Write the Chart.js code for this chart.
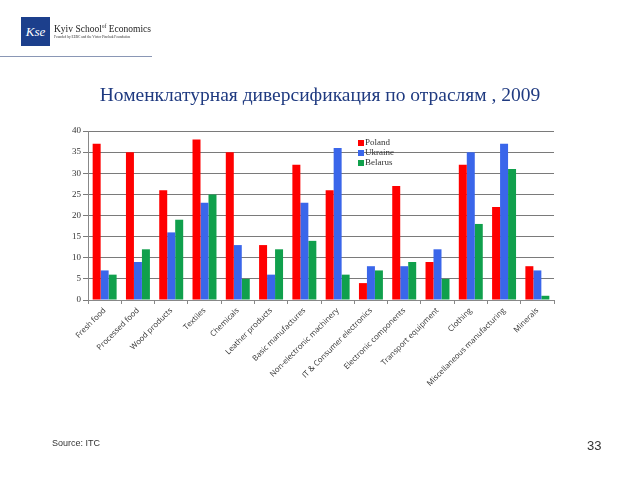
<!DOCTYPE html>
<html><head><meta charset="utf-8">
<script src="https://cdn.jsdelivr.net/npm/chart.js@4/dist/chart.umd.min.js"></script>
<style>
html,body{margin:0;padding:0;background:#fff;width:640px;height:480px;overflow:hidden;}
#wrap{position:absolute;left:0;top:0;width:640px;height:480px;}
.abs{position:absolute;white-space:nowrap;}
#logo{left:21px;top:17px;width:29px;height:29px;background:#1c3f8c;color:#fff;font:italic 13px "Liberation Serif";text-align:center;line-height:29px;}
#kse{left:54px;top:23px;font:9.5px "Liberation Serif";color:#222;}
#kse sup{font-size:5.5px;}
#kse2{left:54px;top:35px;font:3.5px "Liberation Serif";color:#333;}
#hr{left:0;top:56px;width:152px;height:1px;background:#8a97b5;}
#title{left:0;width:640px;top:84px;text-align:center;font:19.5px "Liberation Serif";color:#1f3a80;}
#src{left:52px;top:438px;font:9px "Liberation Sans";color:#333;}
#pg{left:587px;top:438px;font:13px "Liberation Sans";color:#333;}
.lg{font:9px "Liberation Serif";color:#333;}
.sw{position:absolute;width:6px;height:6px;}
</style></head>
<body>
<div id="wrap">
<canvas id="c" width="640" height="480"></canvas>
<div id="logo" class="abs">Kse</div>
<div id="kse" class="abs">Kyiv School<sup>of</sup> Economics</div>
<div id="kse2" class="abs">Founded by EERC and the Victor Pinchuk Foundation</div>
<div id="hr" class="abs"></div>
<div id="title" class="abs">Номенклатурная диверсификация по отраслям , 2009</div>
<div id="src" class="abs">Source: ITC</div>
<div id="pg" class="abs">33</div>
<div id="legend"></div>
</div>
<script>
const categories = ["Fresh food","Processed food","Wood products","Textiles","Chemicals","Leather products","Basic manufactures","Non-electronic machinery","IT & Consumer electronics","Electronic components","Transport equipment","Clothing","Miscellaneous manufacturing","Minerals"];
const poland  = [37,35,26,38,35,13,32,26,4,27,9,32,22,8];
const ukraine = [7,9,16,23,13,6,23,36,8,8,12,35,37,7];
const belarus = [6,12,19,25,5,12,14,6,7,9,5,18,31,1];
const seriesNames = ["Poland","Ukraine","Belarus"];
const yTicks = [0,5,10,15,20,25,30,35,40];
const colors = ["#ff0000","#3a66ea","#10a04c"];

const legendEl = document.getElementById('legend');
seriesNames.forEach((n,i)=>{
  const sw = document.createElement('div');
  sw.className='sw'; sw.style.left='358px'; sw.style.top=(140+i*10)+'px'; sw.style.background=colors[i];
  legendEl.appendChild(sw);
  const t = document.createElement('div');
  t.className='abs lg'; t.textContent=n; t.style.left='365px'; t.style.top=(137+i*10)+'px';
  legendEl.appendChild(t);
});

new Chart(document.getElementById('c'), {
  type:'bar',
  data:{labels:categories, datasets:[
    {label:seriesNames[0], data:poland, backgroundColor:colors[0]},
    {label:seriesNames[1], data:ukraine, backgroundColor:colors[1]},
    {label:seriesNames[2], data:belarus, backgroundColor:colors[2]}
  ]},
  options:{
    responsive:false, animation:false,
    layout:{padding:{left:0,top:131,right:86,bottom:0}},
    plugins:{legend:{display:false},tooltip:{enabled:false}},
    datasets:{bar:{categoryPercentage:0.72,barPercentage:1.0}},
    scales:{
      x:{
        grid:{display:true,drawOnChartArea:false,drawTicks:true,tickLength:4,color:'#888',offset:true},
        border:{display:true,color:'#888'},
        ticks:{autoSkip:false,maxRotation:45,minRotation:45,font:{family:'Open Sans',size:7.8},color:'#333',padding:2},
        afterFit:(s)=>{s.height=180;}
      },
      y:{
        min:0,max:40,
        afterBuildTicks:(s)=>{s.ticks=yTicks.map(v=>({value:v}));},
        grid:{color:'#7a7a7a',tickLength:5,drawTicks:true},
        border:{display:true,color:'#888'},
        ticks:{font:{family:'Liberation Serif',size:9},color:'#333',padding:2},
        afterFit:(s)=>{s.width=88;}
      }
    }
  }
});
</script>
</body></html>
